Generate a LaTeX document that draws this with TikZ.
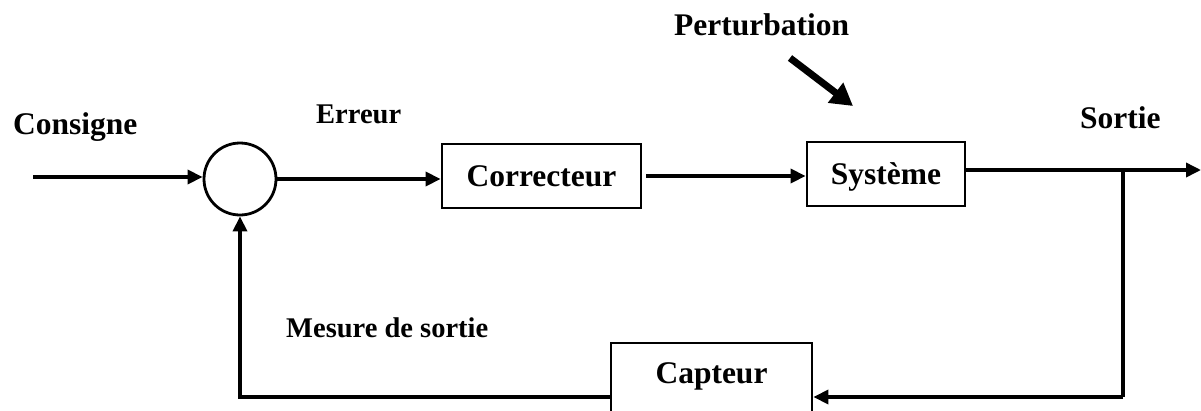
\documentclass[tikz,border=0pt]{standalone}
\usepackage{fontspec}
\setmainfont{Liberation Serif}
\usetikzlibrary{arrows.meta}
\begin{document}
\begin{tikzpicture}[x=1pt,y=-1pt,
  lbl/.style={font=\bfseries\fontsize{31.5}{36}\selectfont, inner sep=0pt, anchor=base west},
  smalllbl/.style={font=\bfseries\fontsize{28.5}{32}\selectfont, inner sep=0pt, anchor=base west},
  block/.style={draw, line width=2.8pt, inner sep=0pt, font=\bfseries\fontsize{31.5}{36}\selectfont,
    text height=21.5pt, text depth=0pt},
  sumnode/.style={draw, circle, line width=2.8pt, minimum size=72pt, inner sep=0pt},
  link/.style={line width=3.5pt, -{Triangle[length=15pt,width=14pt]}},
  plain/.style={line width=3.5pt},
  bigarrow/.style={line width=7pt, -{Triangle[length=22pt,width=24pt]}}]
  \useasboundingbox (0,0) rectangle (1201,410);
  \clip (0,0) rectangle (1201,410);

  % blocks
  \node[sumnode] (sum) at (240,179) {};
  \node[block, minimum width=199pt, minimum height=64pt] (corr) at (541.5,176) {Correcteur};
  \node[block, minimum width=158pt, minimum height=64pt] (sys) at (886,174) {Système};
  \node[block, minimum width=201pt, minimum height=82pt, text depth=22pt] (capt) at (711.5,384) {Capteur};

  % labels
  \node[lbl] (consigne) at (13,134) {Consigne};
  \node[smalllbl] (erreur) at (316,123) {Erreur};
  \node[lbl] (perturb) at (674,35) {Perturbation};
  \node[lbl] (sortie) at (1080,128) {Sortie};
  \node[smalllbl] (mesure) at (286,337) {Mesure de sortie};

  % free ends and branch points
  \coordinate (in) at (33,177);
  \coordinate (br) at (1123,170);
  \coordinate (outend) at (1201,170);
  \coordinate (fb) at (1123,397);
  \coordinate (pstart) at (790,58);
  \coordinate (ptip) at (853,106);

  % forward path
  \draw[link] (in) -- (in -| sum.west);
  \draw[link] (sum.east) -- (sum.east -| corr.west);
  \draw[link] ([xshift=4pt]corr.east) -- (corr.east -| sys.west);
  \draw[link] (sys.east |- br) -- (outend);

  % feedback path
  \draw[plain] (br) -- (fb);
  \draw[link] (fb) -- (fb -| capt.east);
  \draw[link] (capt.west |- fb) -- (fb -| sum.south) -- (sum.south);

  % disturbance
  \draw[bigarrow] (pstart) -- (ptip);
\end{tikzpicture}
\end{document}
